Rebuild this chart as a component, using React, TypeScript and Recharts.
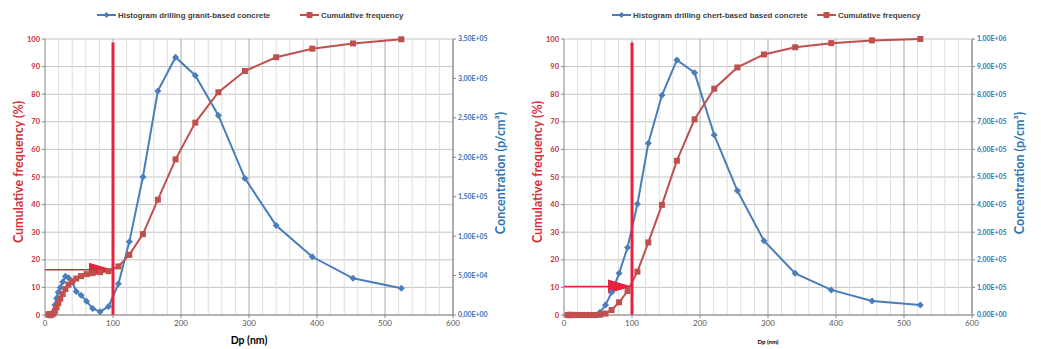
import React from "react";
import {
  CartesianGrid,
  ComposedChart,
  Line,
  ReferenceLine,
  XAxis,
  YAxis,
} from "recharts";

// particle diameter bins (nm), shared by both measurements
const dp = [
  5.3, 6.1, 7.1, 8.2, 9.4, 10.9, 12.6, 14.5, 17, 19.5, 22.5, 26, 30, 34.5, 40,
  46, 53, 61, 70, 81, 93.5, 108, 124, 144, 166, 192, 221, 255, 294, 340, 393,
  453, 524,
];

// granit-based concrete
const granitConc = [
  0, 0, 0, 0, 0, 0, 2100, 12600, 21350, 28700, 35000, 42000, 49000, 47250,
  42000, 29750, 25200, 17500, 8400, 4200, 10850, 39550, 92750, 175000, 284200,
  326900, 303800, 253050, 173250, 113400, 73850, 46550, 33950,
];
const granitCum = [
  0.2, 0.2, 0.2, 0.2, 0.3, 0.3, 0.6, 1.5, 2.8, 4.3, 5.9, 7.6, 9.4, 11, 12.2,
  13.2, 14.1, 14.8, 15.2, 15.5, 15.9, 17.6, 21.8, 29.3, 41.8, 56.4, 69.7, 80.7,
  88.4, 93.4, 96.5, 98.4, 99.9,
];

// chert-based concrete
const chertConc = [
  0, 0, 0, 0, 0, 0, 0, 0, 0, 0, 0, 0, 0, 0, 0, 0, 10000, 36000, 82000, 151000,
  245000, 402000, 622000, 796000, 924000, 878000, 652000, 450000, 269000,
  151000, 91000, 51000, 36000,
];
const chertCum = [
  0, 0, 0, 0, 0, 0, 0, 0, 0, 0, 0, 0, 0, 0, 0, 0, 0.1, 0.5, 1.8, 4.6, 8.7,
  15.7, 26.3, 39.9, 55.9, 70.9, 82, 89.7, 94.4, 97, 98.5, 99.5, 100,
];

const xTicks = [0, 100, 200, 300, 400, 500, 600];
const xMinor = [20, 40, 60, 80, 120, 140, 160, 180, 220, 240, 260, 280, 320, 340, 360, 380, 420, 440, 460, 480, 520, 540, 560, 580];
const xMajor = [100, 200, 300, 400, 500, 600];
const pctTicks = [0, 10, 20, 30, 40, 50, 60, 70, 80, 90, 100];
const granitConcTicks = [0, 50000, 100000, 150000, 200000, 250000, 300000, 350000];
const chertConcTicks = [0, 100000, 200000, 300000, 400000, 500000, 600000, 700000, 800000, 900000, 1000000];

const BLUE = "#4A7EBB";
const RED = "#C0504D";
const MARK = "#E8213F";
const AXIS_BLUE = "#2E75B6";
const AXIS_RED = "#C8313A";
const FONT = "Lato, 'Liberation Sans', sans-serif";

function sci(v: number) {
  if (v === 0) return "0,00E+00";
  const e = Math.floor(Math.log10(v));
  const m = v / Math.pow(10, e);
  return `${m.toFixed(2).replace(".", ",")}E+${String(e).padStart(2, "0")}`;
}

const Diamond = (p: any) => {
  const { cx, cy, index } = p;
  if (cx == null || cy == null) return <g key={index} />;
  const r = 3.5;
  return (
    <path
      key={index}
      d={`M${cx},${cy - r}L${cx + r},${cy}L${cx},${cy + r}L${cx - r},${cy}Z`}
      fill={BLUE}
    />
  );
};

const Square = (p: any) => {
  const { cx, cy, index } = p;
  if (cx == null || cy == null) return <g key={index} />;
  return <rect key={index} x={cx - 3} y={cy - 3} width={6} height={6} fill={RED} />;
};

interface PanelProps {
  conc: number[];
  cum: number[];
  concTicks: number[];
  arrowY: number;
  width: number;
  leftW: number;
  rightW: number;
  dpLabelSize: number;
}

function Panel({ conc, cum, concTicks, arrowY, width, leftW, rightW, dpLabelSize }: PanelProps) {
  const data = dp.map((d, i) => ({ dp: d, conc: conc[i], cum: cum[i] }));
  const plotRight = width - rightW;
  const plotMidX = (leftW + plotRight) / 2;

  return (
    <ComposedChart
      width={width}
      height={349}
      data={data}
      margin={{ top: 39, right: 0, bottom: 0, left: 0 }}
    >
      <CartesianGrid yAxisId="left" vertical={false} stroke="#c4c4c4" />
      {xMinor.map((v) => (
        <ReferenceLine key={`mi${v}`} x={v} yAxisId="left" stroke="#dedede" />
      ))}
      {xMajor.map((v) => (
        <ReferenceLine key={`ma${v}`} x={v} yAxisId="left" stroke="#a8a8a8" />
      ))}
      <XAxis
        dataKey="dp"
        type="number"
        domain={[0, 600]}
        ticks={xTicks}
        height={34}
        stroke="#868686"
        tickSize={3}
        tick={{ fontFamily: FONT, fontSize: 8, fill: "#595959" }}
        label={{
          content: () => (
            <text
              x={plotMidX}
              y={344}
              textAnchor="middle"
              fontFamily={FONT}
              fontWeight="bold"
              fontSize={dpLabelSize}
              fill="#000"
            >
              Dp (nm)
            </text>
          ),
        }}
      />
      <YAxis
        yAxisId="left"
        domain={[0, 100]}
        ticks={pctTicks}
        width={leftW}
        stroke="#868686"
        tickSize={3}
        tick={{ fontFamily: FONT, fontSize: 7.5, fontWeight: "bold", fill: AXIS_RED }}
        label={{
          content: () => (
            <text
              transform={`translate(${leftW - 22},172) rotate(-90)`}
              textAnchor="middle"
              fontFamily={FONT}
              fontWeight="bold"
              fontSize={12.5}
              fill="#D62F3A"
            >
              Cumulative frequency (%)
            </text>
          ),
        }}
      />
      <YAxis
        yAxisId="right"
        orientation="right"
        domain={[0, concTicks[concTicks.length - 1]]}
        ticks={concTicks}
        width={rightW}
        stroke="#868686"
        tickSize={3}
        tickFormatter={sci}
        tick={{ fontFamily: FONT, fontSize: 6.9, fontWeight: "bold", fill: AXIS_BLUE }}
        label={{
          content: () => (
            <text
              transform={`translate(${plotRight + 52},173) rotate(-90)`}
              textAnchor="middle"
              fontFamily={FONT}
              fontWeight="bold"
              fontSize={12.5}
              fill={AXIS_BLUE}
            >
              Concentration (p/cm³)
            </text>
          ),
        }}
      />
      <Line
        yAxisId="right"
        dataKey="conc"
        stroke={BLUE}
        strokeWidth={2}
        dot={Diamond}
        activeDot={false}
        isAnimationActive={false}
      />
      <Line
        yAxisId="left"
        dataKey="cum"
        stroke={RED}
        strokeWidth={2}
        dot={Square}
        activeDot={false}
        isAnimationActive={false}
      />
      <ReferenceLine
        yAxisId="left"
        segment={[
          { x: 100, y: 0 },
          { x: 100, y: 98.7 },
        ]}
        stroke={MARK}
        strokeWidth={3}
      />
      <ReferenceLine
        yAxisId="left"
        segment={[
          { x: 0, y: arrowY },
          { x: 100, y: arrowY },
        ]}
        shape={(p: any) => (
          <g>
            <line x1={p.x1} y1={p.y1} x2={p.x2 - 20} y2={p.y2} stroke={MARK} strokeWidth={1.6} />
            <polygon
              points={`${p.x2 - 24},${p.y2 - 7} ${p.x2},${p.y2} ${p.x2 - 24},${p.y2 + 7}`}
              fill={MARK}
            />
          </g>
        )}
      />
    </ComposedChart>
  );
}

function LegendRow({ x, label }: { x: number; label: string }) {
  return (
    <svg width={520} height={30} style={{ position: "absolute", left: x, top: 0 }}>
      <g fontFamily="'Liberation Sans', Arial, sans-serif" fontWeight="bold" fontSize={7.9} fill="#404040">
        <line x1={0} y1={15} x2={19} y2={15} stroke={BLUE} strokeWidth={2} />
        <path d="M9.5,12L12.5,15L9.5,18L6.5,15Z" fill={BLUE} />
        <text x={21} y={17.8}>{label}</text>
      </g>
    </svg>
  );
}

function LegendCum({ x }: { x: number }) {
  return (
    <svg width={140} height={30} style={{ position: "absolute", left: x, top: 0 }}>
      <g fontFamily="'Liberation Sans', Arial, sans-serif" fontWeight="bold" fontSize={7.9} fill="#404040">
        <line x1={0} y1={15} x2={19} y2={15} stroke={RED} strokeWidth={2} />
        <rect x={6.5} y={12} width={6} height={6} fill={RED} />
        <text x={21} y={17.8}>Cumulative frequency</text>
      </g>
    </svg>
  );
}

export default function App() {
  return (
    <div
      style={{
        position: "absolute",
        left: 0,
        top: 0,
        width: 1041,
        height: 349,
        background: "#fff",
        overflow: "hidden",
      }}
    >
      <div style={{ position: "absolute", left: 0, top: 0 }}>
        <Panel
          conc={granitConc}
          cum={granitCum}
          concTicks={granitConcTicks}
          arrowY={16.4}
          width={520}
          leftW={45}
          rightW={67}
          dpLabelSize={10.5}
        />
      </div>
      <div style={{ position: "absolute", left: 520, top: 0 }}>
        <Panel
          conc={chertConc}
          cum={chertCum}
          concTicks={chertConcTicks}
          arrowY={10.3}
          width={521}
          leftW={44}
          rightW={69}
          dpLabelSize={6}
        />
      </div>
      <LegendRow x={97} label="Histogram drilling granit-based concrete" />
      <LegendCum x={300} />
      <LegendRow x={612} label="Histogram drilling chert-based based concrete" />
      <LegendCum x={817} />
    </div>
  );
}
